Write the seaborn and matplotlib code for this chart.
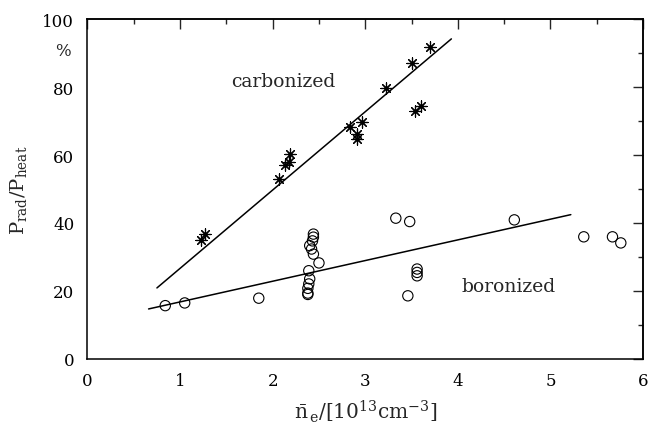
"""
Radiated power fraction vs. line density, carbonized vs. boronized walls
"""

import matplotlib
matplotlib.use("Agg")
import matplotlib.pyplot as plt
from matplotlib.ticker import MultipleLocator
import seaborn as sns
import numpy as np
import pandas as pd

# carbonized (asterisks)
carb_ne = [1.23, 1.27, 2.07, 2.13, 2.18, 2.19, 2.83, 2.97, 2.91, 2.91,
           3.22, 3.51, 3.70, 3.54, 3.60]
carb_prad = [35.0, 36.7, 52.9, 57.2, 58.1, 60.3, 68.4, 69.8, 66.2, 64.7,
             79.8, 87.2, 91.8, 73.0, 74.6]

# boronized (open circles)
boro_ne = [0.84, 1.05, 1.85,
           2.44, 2.44, 2.43, 2.40, 2.42, 2.44, 2.50, 2.39, 2.40, 2.39,
           2.38, 2.38, 2.38,
           3.33, 3.48, 3.56, 3.56, 3.56, 3.46,
           4.61, 5.36, 5.67, 5.76]
boro_prad = [15.6, 16.4, 17.8,
             36.7, 35.8, 34.7, 33.3, 32.3, 30.8, 28.2, 25.9, 23.5, 22.0,
             20.7, 19.3, 18.9,
             41.4, 40.4, 26.4, 25.4, 24.4, 18.5,
             40.9, 35.9, 35.9, 34.1]

# fitted lines (range, intercept, slope) as drawn in the figure
carb_fit_range = [0.75, 3.93]
carb_fit_coef = [3.5, 23.1]
boro_fit_range = [0.66, 5.22]
boro_fit_coef = [10.6, 6.1]

sns.set_style("white")
plt.rcParams["font.family"] = ["DejaVu Serif"]
plt.rcParams["mathtext.fontset"] = "dejavuserif"

carb_df = pd.DataFrame({"ne": carb_ne, "prad": carb_prad})
boro_df = pd.DataFrame({"ne": boro_ne, "prad": boro_prad})

def fit_frame(rng, coef):
    x = np.array(rng)
    return pd.DataFrame({"ne": x, "prad": coef[0] + coef[1] * x})

fig = plt.figure(figsize=(6.49, 4.27), dpi=100)
ax = fig.add_axes([0.1348, 0.158, 0.8560, 0.794])

sns.lineplot(data=fit_frame(carb_fit_range, carb_fit_coef), x="ne", y="prad",
             color="black", lw=1.1, ax=ax)
sns.lineplot(data=fit_frame(boro_fit_range, boro_fit_coef), x="ne", y="prad",
             color="black", lw=1.1, ax=ax)

sns.scatterplot(data=carb_df, x="ne", y="prad", marker=(8, 2, 0),
                color="black", s=65, linewidth=0.85, ax=ax)
sns.scatterplot(data=boro_df, x="ne", y="prad", marker="o",
                facecolor="none", edgecolor="black", s=55, linewidth=0.8, ax=ax)

ax.set_xlim(0, 6)
ax.set_ylim(0, 100)
ax.xaxis.set_major_locator(MultipleLocator(1))
ax.xaxis.set_minor_locator(MultipleLocator(0.5))
ax.yaxis.set_major_locator(MultipleLocator(20))
ax.yaxis.set_minor_locator(MultipleLocator(10))
ax.tick_params(which="major", direction="out", length=6, width=1,
               labelsize=12, color="black", labelcolor="black")
ax.tick_params(which="minor", direction="out", length=3, width=1, color="black")

# top / right axes carry inward ticks only
top = ax.secondary_xaxis("top")
top.xaxis.set_major_locator(MultipleLocator(1))
top.xaxis.set_minor_locator(MultipleLocator(0.5))
top.tick_params(which="major", direction="in", length=7, width=1, labeltop=False)
top.tick_params(which="minor", direction="in", length=3.5, width=1)
right = ax.secondary_yaxis("right")
right.yaxis.set_major_locator(MultipleLocator(20))
right.yaxis.set_minor_locator(MultipleLocator(10))
right.tick_params(which="major", direction="in", length=7, width=1, labelright=False)
right.tick_params(which="minor", direction="in", length=3.5, width=1)

for sp in list(ax.spines.values()) + [top.spines["top"], right.spines["right"]]:
    sp.set_color("black")
    sp.set_linewidth(1.1)

ax.set_xlabel(r"$\bar{\mathrm{n}}_{\,\mathrm{e}}/[10^{13}\mathrm{cm}^{-3}]$",
              fontsize=14.5, labelpad=6)
ax.set_ylabel(r"$\mathrm{P}_{\mathrm{rad}}/\mathrm{P}_{\mathrm{heat}}$",
              fontsize=14, labelpad=10)

ax.text(-0.26, 90.8, "%", ha="center", va="center", fontsize=12)
ax.text(2.11, 82, "carbonized", ha="center", va="center", fontsize=13.5)
ax.text(4.55, 21.5, "boronized", ha="center", va="center", fontsize=13.5)

plt.savefig("out.png", dpi=100)
